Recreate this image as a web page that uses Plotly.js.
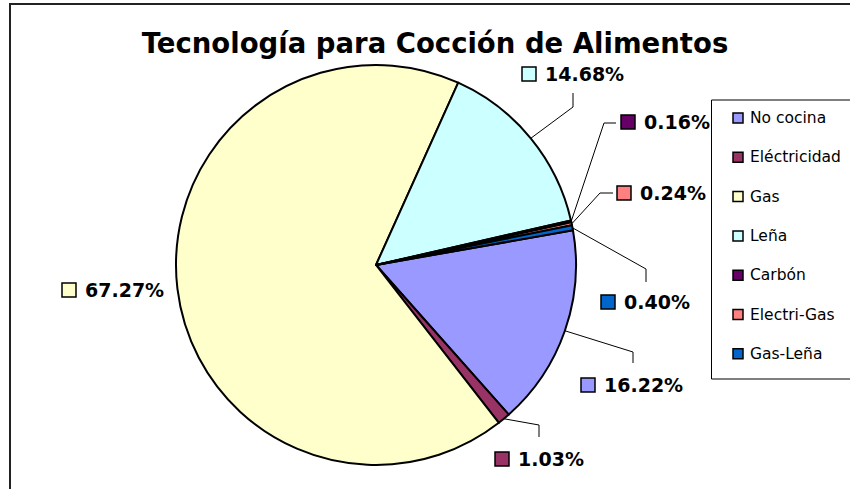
<!DOCTYPE html>
<html>
<head>
<meta charset="utf-8">
<script src="https://cdn.plot.ly/plotly-3.0.1.min.js"></script>
<style>html,body{margin:0;padding:0;background:#fff;}#chart{width:850px;height:489px;}</style>
</head>
<body>
<div id="chart"></div>
<script>
// ---- data ----
const categories = ["No cocina", "Eléctricidad", "Gas", "Leña", "Carbón", "Electri-Gas", "Gas-Leña"];
const values = [16.22, 1.03, 67.27, 14.68, 0.16, 0.24, 0.40];
const titleText = "Tecnología para Cocción de Alimentos";

// ---- styles / layout ----
const colors = ["#9999FF", "#993366", "#FFFFCC", "#CCFFFF", "#660066", "#FF8080", "#0066CC"];
const W = 850, H = 489;
const cx = 376, cy = 265, R = 200, rotation = 80;
// label placement (pixels): square left x, centre y, leader elbow, leader end
const labelLayout = [
  {sx: 581, sy: 385, elbow: [633, 352], end: [633, 363]},
  {sx: 495, sy: 459, elbow: [539, 425], end: [539, 437]},
  {sx: 62,  sy: 290, elbow: null, end: null},
  {sx: 522, sy: 74,  elbow: [573, 107], end: [573, 93]},
  {sx: 621, sy: 122, elbow: [604, 123], end: [616, 123]},
  {sx: 617, sy: 193, elbow: [600, 193], end: [613, 193]},
  {sx: 601, sy: 302, elbow: [646, 269], end: [646, 282]}
];

const px = x => x / W;
const py = y => 1 - y / H;

const shapes = [];
const annotations = [];

// outer frame
shapes.push({type: 'rect', xref: 'paper', yref: 'paper', x0: px(10), y0: py(4), x1: px(900), y1: py(560),
  line: {color: '#222', width: 2}, fillcolor: 'rgba(0,0,0,0)', layer: 'below'});

// data labels with leader lines (edge point computed from data)
const total = values.reduce((a, b) => a + b, 0);
let cum = 0;
values.forEach((v, i) => {
  const midFrac = (cum + v / 2) / total;
  cum += v;
  const th = (rotation + 360 * midFrac) * Math.PI / 180;
  const ex = cx + R * Math.sin(th), ey = cy - R * Math.cos(th);
  const L = labelLayout[i];
  if (L.elbow) {
    shapes.push({type: 'path', xref: 'paper', yref: 'paper',
      path: `M${px(ex)},${py(ey)} L${px(L.elbow[0])},${py(L.elbow[1])} L${px(L.end[0])},${py(L.end[1])}`,
      line: {color: '#000', width: 1}});
  }
  shapes.push({type: 'rect', xref: 'paper', yref: 'paper',
    x0: px(L.sx), x1: px(L.sx + 14), y0: py(L.sy - 7), y1: py(L.sy + 7),
    fillcolor: colors[i], line: {color: '#000', width: 1.5}});
  annotations.push({xref: 'paper', yref: 'paper', x: px(L.sx + 22), y: py(L.sy),
    xanchor: 'left', yanchor: 'middle', showarrow: false, borderpad: 0,
    text: v.toFixed(2) + '%',
    font: {family: 'DejaVu Sans', size: 19, color: '#000', weight: 'bold'}});
});

// legend (built from categories)
const legX = 711.5, legTop = 100, legBottom = 379, legY0 = 118, legGap = 39.3;
shapes.push({type: 'rect', xref: 'paper', yref: 'paper', x0: px(legX), x1: px(900), y0: py(legTop), y1: py(legBottom),
  fillcolor: '#fff', line: {color: '#000', width: 1}});
categories.forEach((c, i) => {
  const y = legY0 + i * legGap;
  shapes.push({type: 'rect', xref: 'paper', yref: 'paper', x0: px(733), x1: px(743), y0: py(y - 5), y1: py(y + 5),
    fillcolor: colors[i], line: {color: '#000', width: 1.5}});
  annotations.push({xref: 'paper', yref: 'paper', x: px(749), y: py(y), xanchor: 'left', yanchor: 'middle',
    showarrow: false, borderpad: 0, text: c,
    font: {family: 'DejaVu Sans', size: 15.5, color: '#000'}});
});

const trace = {
  type: 'pie',
  labels: categories,
  values: values,
  sort: false,
  direction: 'clockwise',
  rotation: rotation,
  textinfo: 'none',
  showlegend: false,
  marker: {colors: colors, line: {color: '#000', width: 2}},
  domain: {x: [px(cx - R), px(cx + R)], y: [(H - cy - R) / H, (H - cy + R) / H]},
  hoverinfo: 'label+percent'
};

const layout = {
  width: W, height: H,
  margin: {l: 0, r: 0, t: 0, b: 0},
  paper_bgcolor: '#fff',
  plot_bgcolor: '#fff',
  showlegend: false,
  title: {text: titleText, x: 435 / W, xanchor: 'center', xref: 'container', y: 1 - 43.5 / H, yref: 'container', yanchor: 'middle',
    font: {family: 'DejaVu Sans', size: 27.5, color: '#000', weight: 'bold'}},
  shapes: shapes,
  annotations: annotations
};

Plotly.newPlot('chart', [trace], layout, {displayModeBar: false, staticPlot: true});
</script>
</body>
</html>
